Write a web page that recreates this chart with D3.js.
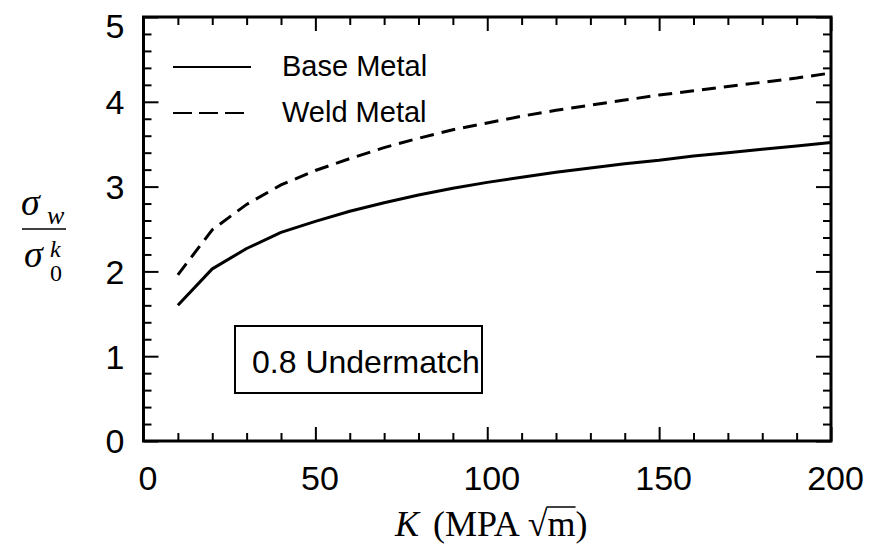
<!DOCTYPE html>
<html>
<head>
<meta charset="utf-8">
<script src="https://cdn.jsdelivr.net/npm/d3@7"></script>
<style>
  body { margin: 0; background: #fff; }
  svg { display: block; }
</style>
</head>
<body>
<div id="chart"></div>
<script>
  // chart data
  var kValues = [10, 20, 30, 40, 50, 60, 70, 80, 90, 100, 110, 120, 130, 140, 150, 160, 170, 180, 190, 200];
  var baseMetal = [1.60, 2.03, 2.27, 2.46, 2.59, 2.71, 2.81, 2.90, 2.98, 3.05, 3.11, 3.17, 3.22, 3.27, 3.31, 3.36, 3.40, 3.44, 3.48, 3.52];
  var weldMetal = [1.96, 2.49, 2.79, 3.02, 3.19, 3.33, 3.46, 3.57, 3.67, 3.75, 3.83, 3.90, 3.96, 4.02, 4.08, 4.13, 4.18, 4.23, 4.28, 4.34];
  var xMajor = [0, 50, 100, 150, 200];
  var yMajor = [0, 1, 2, 3, 4, 5];
  var legendLabels = ['Base Metal', 'Weld Metal'];
  var boxLabel = '0.8 Undermatch';

(function() {
  'use strict';

  var W = 880, H = 547;
  // plot frame edges (don't call these top/left - window.top is reserved)
  var pLeft = 143.5, pRight = 831, pTop = 17, pBottom = 441;

  var sans = '"Liberation Sans", Arial, Helvetica, sans-serif';
  var serif = '"Liberation Serif", "Times New Roman", serif';

  var svg = d3.select('#chart').append('svg')
    .attr('width', W)
    .attr('height', H);

  var x = d3.scaleLinear().domain([0, 200]).range([pLeft, pRight]);
  var y = d3.scaleLinear().domain([0, 5]).range([pBottom, pTop]);

  var xMinor = d3.range(0, 201, 10).filter(function(v) { return v % 50; });
  var yMinor = d3.range(0, 25).map(function(i) { return i * 0.2; }).filter(function(v) { return Math.abs(v - Math.round(v)) > 1e-6; });

  // inward ticks on all four sides
  function tickAxis(axisFn, scale, values, size, translate) {
    var a = axisFn(scale).tickValues(values).tickSize(-size).tickFormat('');
    var g = svg.append('g').attr('transform', translate).call(a);
    g.select('.domain').remove();
    g.selectAll('.tick line').attr('stroke', '#000').attr('stroke-width', 2);
    return g;
  }

  tickAxis(d3.axisBottom, x, xMinor, 8, 'translate(0,' + pBottom + ')');
  tickAxis(d3.axisTop, x, xMinor, 8, 'translate(0,' + pTop + ')');
  tickAxis(d3.axisTop, x, xMajor, 14, 'translate(0,' + pTop + ')');
  tickAxis(d3.axisLeft, y, yMinor, 8, 'translate(' + pLeft + ',0)');
  tickAxis(d3.axisRight, y, yMinor, 8, 'translate(' + pRight + ',0)');
  tickAxis(d3.axisRight, y, yMajor, 15, 'translate(' + pRight + ',0)');

  var xAx = d3.axisBottom(x).tickValues(xMajor).tickSize(-14).tickPadding(25).tickFormat(d3.format('d'));
  var gx = svg.append('g').attr('transform', 'translate(0,' + pBottom + ')').call(xAx);
  gx.select('.domain').remove();
  gx.selectAll('.tick line').attr('stroke', '#000').attr('stroke-width', 2);
  gx.selectAll('.tick text')
    .attr('font-family', sans).attr('font-size', 34).attr('fill', '#000')
    .attr('dx', 4);

  var yAx = d3.axisLeft(y).tickValues(yMajor).tickSize(-15).tickPadding(19).tickFormat(d3.format('d'));
  var gy = svg.append('g').attr('transform', 'translate(' + pLeft + ',0)').call(yAx);
  gy.select('.domain').remove();
  gy.selectAll('.tick line').attr('stroke', '#000').attr('stroke-width', 2);
  gy.selectAll('.tick text')
    .attr('font-family', sans).attr('font-size', 34).attr('fill', '#000')
    .attr('dy', '0.35em');
  // top label sits a bit lower in the original so it isn't clipped
  gy.selectAll('.tick text').filter(function(d) { return d === 5; })
    .attr('dy', '0.6em');

  // frame
  svg.append('rect')
    .attr('x', pLeft).attr('y', pTop)
    .attr('width', pRight - pLeft).attr('height', pBottom - pTop)
    .attr('fill', 'none').attr('stroke', '#000').attr('stroke-width', 3);

  // curves
  var line = d3.line()
    .x(function(d) { return x(d[0]); })
    .y(function(d) { return y(d[1]); });

  svg.append('path')
    .datum(d3.zip(kValues, baseMetal))
    .attr('d', line)
    .attr('fill', 'none').attr('stroke', '#000').attr('stroke-width', 3)
    .attr('stroke-linejoin', 'round');

  svg.append('path')
    .datum(d3.zip(kValues, weldMetal))
    .attr('d', line)
    .attr('fill', 'none').attr('stroke', '#000').attr('stroke-width', 3)
    .attr('stroke-dasharray', '14,8');

  // legend
  var legendY = [67, 113];
  var legendText = [76, 122];
  legendLabels.forEach(function(lbl, i) {
    svg.append('line')
      .attr('x1', 173).attr('x2', 251)
      .attr('y1', legendY[i]).attr('y2', legendY[i])
      .attr('stroke', '#000').attr('stroke-width', 2)
      .attr('stroke-dasharray', i ? '19,7' : null);
    svg.append('text')
      .attr('x', 282).attr('y', legendText[i])
      .attr('font-family', sans).attr('font-size', 29)
      .text(lbl);
  });

  // annotation box
  svg.append('rect')
    .attr('x', 235).attr('y', 326)
    .attr('width', 247).attr('height', 67)
    .attr('fill', '#fff').attr('stroke', '#000').attr('stroke-width', 2);
  svg.append('text')
    .attr('x', 252).attr('y', 373)
    .attr('font-family', sans).attr('font-size', 32)
    .text(boxLabel);

  // y title: sigma_w / sigma_0^k
  var yt = svg.append('g').attr('font-family', serif).attr('fill', '#000');
  yt.append('text').attr('x', 21).attr('y', 215)
    .attr('font-size', 38).attr('font-style', 'italic').text('σ');
  yt.append('text').attr('x', 47).attr('y', 224)
    .attr('font-size', 26).attr('font-style', 'italic').text('w');
  yt.append('line').attr('x1', 22).attr('x2', 66).attr('y1', 229).attr('y2', 229)
    .attr('stroke', '#000').attr('stroke-width', 1.5);
  yt.append('text').attr('x', 24).attr('y', 267)
    .attr('font-size', 38).attr('font-style', 'italic').text('σ');
  yt.append('text').attr('x', 50).attr('y', 257)
    .attr('font-size', 24).attr('font-style', 'italic').text('k');
  yt.append('text').attr('x', 50).attr('y', 281)
    .attr('font-size', 24).text('0');

  // x title: K (MPA sqrt m)
  var xt = svg.append('text')
    .attr('x', 395).attr('y', 536)
    .attr('font-family', serif).attr('font-size', 36).attr('fill', '#000');
  xt.append('tspan').attr('font-style', 'italic').text('K');
  xt.append('tspan').attr('dx', 14).text('(MPA');
  xt.append('tspan').attr('dx', 8).text('√');
  xt.append('tspan').text('m');
  xt.append('tspan').text(')');

  var full = xt.text();
  var mi = full.indexOf('m');
  var ext = xt.node().getExtentOfChar(mi);
  var sq = xt.node().getExtentOfChar(mi - 1);
  svg.append('line')
    .attr('x1', sq.x + sq.width - 1).attr('x2', ext.x + ext.width)
    .attr('y1', sq.y + 3).attr('y2', sq.y + 3)
    .attr('stroke', '#000').attr('stroke-width', 1.5);
}());
</script>
</body>
</html>
